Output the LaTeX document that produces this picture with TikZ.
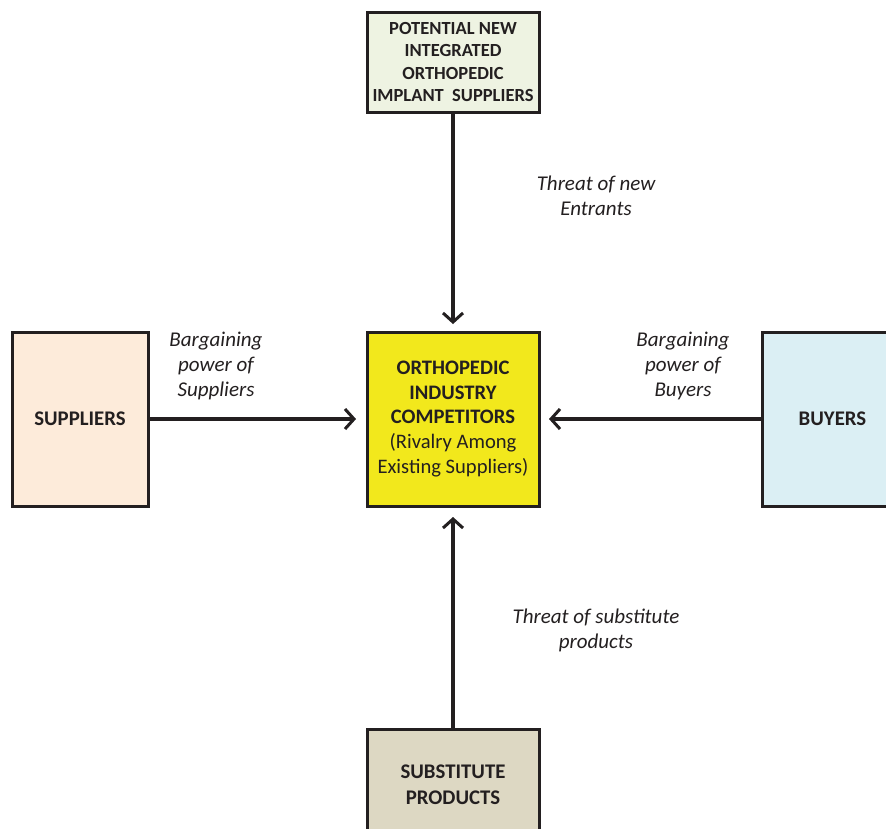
\documentclass[tikz,border=0pt]{standalone}
\usepackage{fontspec}
\setmainfont{Carlito}
\usetikzlibrary{arrows.meta}
\definecolor{topc}{HTML}{EEF3E2}
\definecolor{midc}{HTML}{F2E81C}
\definecolor{supc}{HTML}{FDEBDA}
\definecolor{buyc}{HTML}{DBEFF4}
\definecolor{subc}{HTML}{DDD8C3}
\definecolor{ink}{HTML}{231F20}
\begin{document}
\begin{tikzpicture}[x=1pt,y=-1pt,
  boxx/.style={draw=ink,line width=3pt,align=center,inner sep=0pt,text=ink,font=\fontsize{20.8}{26}\selectfont\bfseries},
  force/.style={draw=ink,line width=4pt,-{Straight Barb[length=9pt,width=20pt,line width=3pt]}},
  lbl/.style={align=center,text=ink,font=\fontsize{21}{25}\selectfont\itshape}]
\useasboundingbox (0,0) rectangle (886,828);
\fill[white] (0,0) rectangle (886,828);
\node[boxx,fill=topc,minimum width=172pt,minimum height=100pt,font=\fontsize{18.5}{22.3}\selectfont\bfseries] (top) at (453,62) {POTENTIAL NEW\\INTEGRATED\\ORTHOPEDIC\\IMPLANT\ \ SUPPLIERS};
\node[boxx,fill=midc,minimum width=172pt,minimum height=174pt,font=\fontsize{20.6}{24.6}\selectfont] (mid) at (453,419) {\textbf{ORTHOPEDIC}\\\textbf{INDUSTRY}\\\textbf{COMPETITORS}\\(Rivalry Among\\Existing Suppliers)};
\node[boxx,fill=supc,minimum width=136pt,minimum height=174pt] (sup) at (80,419) {SUPPLIERS};
\node[boxx,fill=buyc,minimum width=140pt,minimum height=174pt,anchor=west] (buy) at (761,419) {BUYERS};
\node[boxx,fill=subc,minimum width=172pt,minimum height=110pt,anchor=north] (sub) at (453,728) {SUBSTITUTE\\PRODUCTS};
\coordinate (tN) at (453,324);
\coordinate (tW) at (356,419);
\coordinate (tE) at (549,419);
\coordinate (tS) at (453,517);
\draw[force] (top.south) -- (tN);
\draw[force] (sup.east) -- (tW);
\draw[force] (buy.west) -- (tE);
\draw[force] (sub.north) -- (tS);
\node[lbl] (l1) at (596,196) {Threat of new\\Entrants};
\node[lbl] (l2) at (216,366) {Bargaining\\power of\\Suppliers};
\node[lbl] (l3) at (683,366) {Bargaining\\power of\\Buyers};
\node[lbl] (l4) at (596,630) {Threat of substitute\\products};
\end{tikzpicture}
\end{document}
